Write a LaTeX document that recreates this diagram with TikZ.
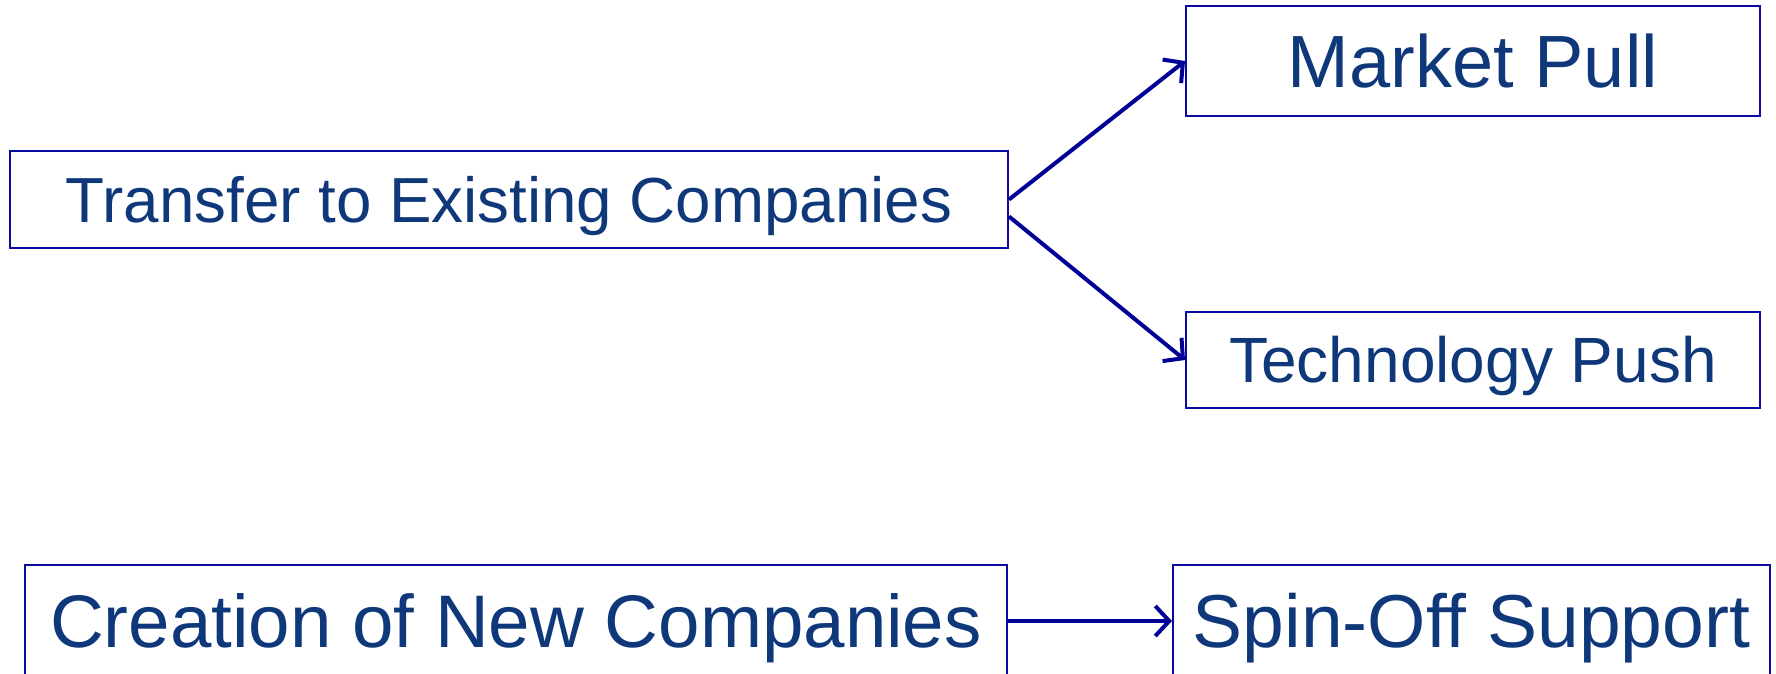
\documentclass[tikz,border=0pt]{standalone}
\usepackage{fontspec}
\setmainfont{Liberation Sans}
\usetikzlibrary{arrows.meta}
\definecolor{boxline}{RGB}{10,10,160}
\definecolor{arrowc}{RGB}{0,0,150}
\definecolor{txt}{RGB}{14,56,122}
\begin{document}
\begin{tikzpicture}[x=1pt,y=-1pt,
  box/.style={draw=boxline, line width=2pt, text=txt, inner sep=0pt,
    text depth=0pt, anchor=center},
  conn/.style={draw=arrowc, line width=4pt, -{Straight Barb[length=14pt,width=30pt,line width=4pt]}}]
\useasboundingbox[fill=white] (0,0) rectangle (1776,673);
\node[box, minimum width=998pt, minimum height=97pt, text height=45.6pt, font=\fontsize{63.7}{70}\selectfont] (t) at (509,199.5) {Transfer to Existing Companies};
\node[box, minimum width=574pt, minimum height=110pt, text height=53pt, font=\fontsize{74}{80}\selectfont] (mp) at (1473,61) {Market Pull};
\node[box, minimum width=574pt, minimum height=96pt, text height=45.8pt, font=\fontsize{64}{70}\selectfont] (tp) at (1473,360) {Technology Push};
\node[box, minimum width=982pt, minimum height=112pt, text height=53.3pt, font=\fontsize{74.5}{80}\selectfont] (c) at (516,621) {Creation of New Companies};
\node[box, minimum width=597pt, minimum height=112pt, text height=53.7pt, font=\fontsize{75}{80}\selectfont] (s) at (1471.5,621) {Spin-Off Support};
\draw[conn] (t.east) -- (mp.west);
\draw[conn] ([yshift=-17pt]t.east) -- (tp.west);
\draw[conn] (c.east) -- (s.west);
\end{tikzpicture}
\end{document}
